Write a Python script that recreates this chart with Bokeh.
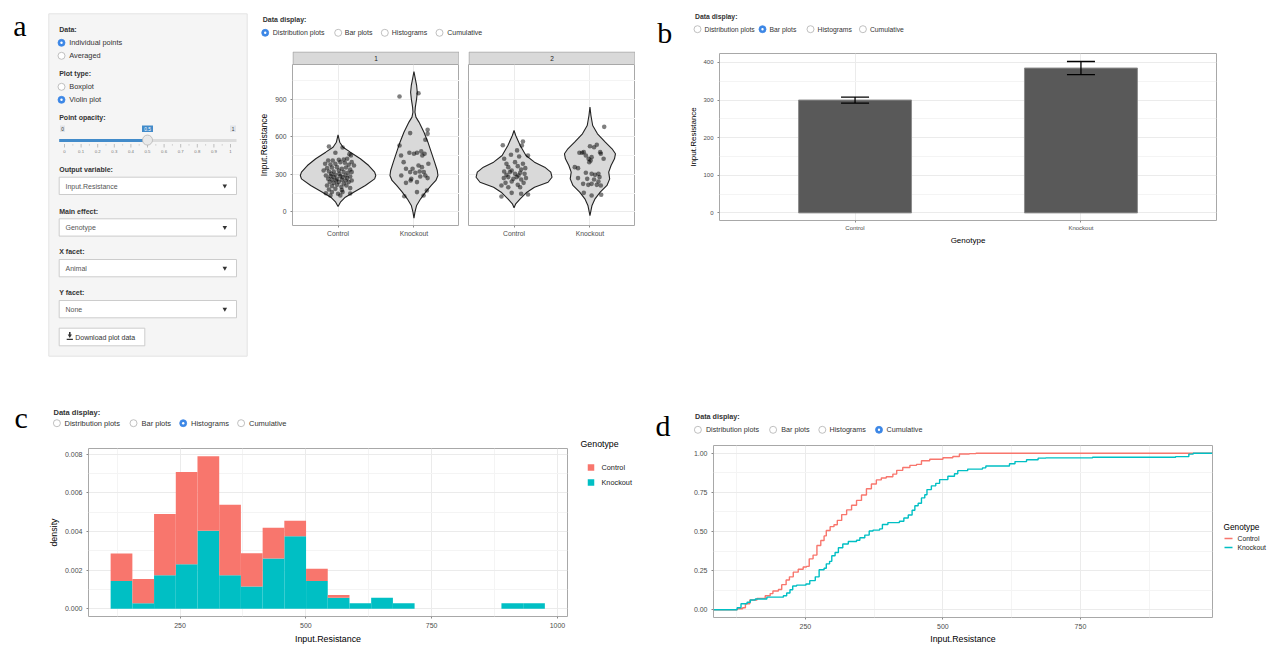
from bokeh.plotting import figure
from bokeh.layouts import row, column
from bokeh.models import Range1d, FixedTicker, NumeralTickFormatter, Spacer
from bokeh.core.properties import value
from bokeh.embed import file_html
from bokeh.resources import INLINE

# ------------------------------------------------------------------ data
genotypes = ["Control", "Knockout"]
animals = ["1", "2"]
out_var = "Input.Resistance"
display_opts = ["Distribution plots", "Bar plots", "Histograms", "Cumulative"]

# violin outlines (value, half width in category units)
vio_a1_ctrl_y = [42, 77, 117, 157, 211, 264, 291, 318, 371, 425, 478, 518, 558, 617]
vio_a1_ctrl_w = [0, 0.031, 0.096, 0.206, 0.36, 0.482, 0.497, 0.482, 0.404, 0.294, 0.162, 0.066, 0.022, 0]
vio_a1_ko_y = [-51, -3, 51, 104, 157, 211, 251, 291, 331, 398, 478, 558, 638, 719, 759, 799, 839, 906, 959, 1013, 1066, 1125]
vio_a1_ko_w = [0, 0.013, 0.035, 0.088, 0.154, 0.228, 0.289, 0.316, 0.307, 0.272, 0.228, 0.184, 0.132, 0.066, 0.026, 0.013, 0.018, 0.035, 0.044, 0.035, 0.018, 0]
vio_a2_ctrl_y = [32, 64, 104, 157, 197, 237, 277, 318, 358, 398, 451, 532, 612, 652]
vio_a2_ctrl_w = [0, 0.022, 0.081, 0.17, 0.269, 0.448, 0.5, 0.484, 0.404, 0.269, 0.157, 0.081, 0.022, 0]
vio_a2_ko_y = [-30, 51, 104, 157, 211, 264, 318, 371, 425, 465, 505, 558, 625, 692, 772, 839]
vio_a2_ko_w = [0, 0.027, 0.067, 0.135, 0.224, 0.26, 0.247, 0.278, 0.323, 0.336, 0.291, 0.202, 0.099, 0.036, 0.013, 0]

# jittered points (value, horizontal jitter in category units)
a1_ctrl_y = [524, 516, 473, 462, 452, 411, 411, 417, 419, 425, 398, 385, 379, 385, 398, 393, 377, 371, 350, 355,
             358, 345, 355, 339, 331, 323, 323, 331, 318, 313, 318, 291, 286, 297, 286, 291, 283, 264, 259, 264,
             256, 270, 251, 238, 232, 238, 227, 238, 211, 206, 216, 200, 211, 179, 184, 174, 190, 149, 158, 144,
             158, 147, 131, 131, 278, 304, 304, 278, 251, 251]
a1_ctrl_dx = [-0.12, 0.06, -0.035, 0.15, 0.17, -0.13, -0.07, 0.01, 0.075, 0.12, 0.18, -0.17, -0.10, -0.035, 0.03,
              0.09, 0.14, 0.21, -0.145, -0.08, -0.013, 0.05, 0.105, 0.16, -0.19, -0.12, -0.057, 0.01, 0.075, 0.13,
              0.18, -0.16, -0.10, -0.035, 0.03, 0.1, 0.16, -0.13, -0.08, -0.013, 0.05, 0.12, 0.18, -0.11, -0.057,
              0.01, 0.075, 0.14, -0.145, -0.08, -0.013, 0.044, 0.11, -0.12, -0.035, 0.05, 0.16, -0.16, -0.08, 0.0,
              0.06, 0.16, -0.10, 0.03, -0.057, 0.018, -0.088, 0.06, -0.026, 0.1]
a1_ko_y = [925, 951, 631, 657, 625, 577, 532, 451, 473, 465, 473, 484, 451, 465, 398, 385, 345, 358, 291, 318,
           313, 323, 318, 291, 264, 283, 270, 232, 251, 238, 171, 158, 125, 131, 345, 371]
a1_ko_dx = [-0.19, 0.06, -0.05, 0.18, 0.18, 0.15, -0.19, -0.17, -0.06, 0.0, 0.04, 0.096, 0.11, 0.14, -0.136,
            0.19, -0.018, 0.105, -0.167, -0.05, 0.018, 0.075, 0.13, 0.15, -0.035, 0.083, 0.18, -0.105, -0.044,
            0.04, 0.17, 0.04, -0.127, 0.127, -0.105, 0.06]
a2_ctrl_y = [534, 564, 492, 532, 425, 457, 443, 451, 385, 398, 385, 358, 331, 366, 339, 350, 323, 318, 304, 313,
             304, 270, 278, 264, 278, 259, 270, 232, 243, 216, 232, 211, 197, 197, 152, 144, 123, 139, 296, 291]
a2_ctrl_dx = [-0.148, 0.117, 0.04, 0.103, -0.13, -0.04, 0.067, 0.184, -0.1, 0.013, 0.117, -0.076, -0.031, 0.049,
              0.094, 0.148, -0.13, -0.054, 0.013, 0.081, 0.139, -0.135, -0.076, -0.009, 0.036, 0.094, 0.157,
              -0.112, -0.031, 0.049, 0.126, -0.166, -0.076, 0.081, -0.031, 0.094, -0.166, 0.184, -0.1, 0.058]
a2_ko_y = [681, 473, 478, 526, 518, 537, 478, 465, 451, 438, 425, 411, 398, 358, 350, 304, 313, 296, 304, 270,
           264, 259, 278, 224, 216, 224, 216, 211, 243, 152, 131, 136, 473, 425]
a2_ko_dx = [0.188, -0.139, -0.081, 0.0, 0.054, 0.09, 0.135, 0.143, -0.054, 0.022, -0.018, 0.009, -0.009, -0.2,
            -0.157, 0.022, -0.054, 0.067, 0.112, -0.157, -0.036, 0.054, 0.126, -0.09, -0.022, 0.022, 0.09, 0.143,
            0.112, -0.081, 0.022, 0.148, -0.103, 0.18]

# bar plot (mean and SEM)
bar_mean = [300, 385]
bar_sem = [8, 17.5]

# histogram (density per bin, stacked)
hist_edges = [112.0, 155.2, 198.3, 241.5, 284.6, 327.8, 370.9, 414.1, 457.2, 500.4, 543.5,
              586.7, 629.8, 673.0, 716.1, 759.3, 802.4, 845.6, 888.7, 931.9, 975.0]
hist_ko = [0.001445, 0.000289, 0.001734, 0.002312, 0.004046, 0.001734, 0.001156, 0.002601, 0.003757, 0.001445,
           0.000578, 0.000289, 0.000578, 0.000289, 0, 0, 0, 0, 0.000289, 0.000289]
hist_ctrl = [0.001422, 0.001253, 0.003178, 0.004763, 0.003851, 0.003647, 0.001727, 0.00159, 0.000803, 0.000634,
             0.000143, 0, 0, 0, 0, 0, 0, 0, 0, 0]

# cumulative distributions
ecdf_ctrl_x = [126, 136, 141, 149, 162, 177, 186, 191, 201, 207, 215, 221, 228, 237, 246, 252, 257, 264, 271, 278,
               284, 288, 295, 302, 308, 316, 325, 334, 343, 352, 361, 370, 379, 388, 397, 409, 416, 427, 440, 452,
               461, 476, 500, 518, 530, 548, 560]
ecdf_ctrl_y = [0.006, 0.012, 0.038, 0.062, 0.072, 0.089, 0.103, 0.119, 0.129, 0.160, 0.190, 0.210, 0.240, 0.259,
               0.273, 0.277, 0.325, 0.349, 0.410, 0.442, 0.472, 0.506, 0.531, 0.543, 0.571, 0.608, 0.638, 0.668,
               0.699, 0.733, 0.773, 0.804, 0.830, 0.842, 0.850, 0.867, 0.891, 0.909, 0.923, 0.929, 0.952, 0.962,
               0.972, 0.980, 0.996, 0.998, 1.0]
ecdf_ko_x = [126, 133, 144, 150, 159, 180, 210, 216, 222, 227, 234, 251, 258, 268, 275, 284, 288, 294, 298, 304,
             310, 318, 328, 343, 349, 358, 366, 373, 385, 390, 400, 421, 429, 437, 444, 449, 455, 461, 467, 471,
             479, 487, 494, 509, 521, 527, 545, 572, 578, 621, 631, 652, 673, 687, 772, 923, 947, 955]
ecdf_ko_y = [0.012, 0.038, 0.048, 0.062, 0.068, 0.080, 0.089, 0.107, 0.127, 0.151, 0.157, 0.164, 0.186, 0.210,
             0.255, 0.265, 0.293, 0.309, 0.345, 0.366, 0.396, 0.420, 0.436, 0.444, 0.460, 0.477, 0.503, 0.509,
             0.517, 0.545, 0.557, 0.566, 0.586, 0.606, 0.636, 0.665, 0.681, 0.715, 0.735, 0.768, 0.792, 0.808,
             0.832, 0.853, 0.869, 0.889, 0.899, 0.907, 0.919, 0.933, 0.947, 0.959, 0.969, 0.971, 0.975, 0.979,
             0.995, 1.0]

# ------------------------------------------------------------------ style
UI = "Liberation Sans"
SERIF = "Liberation Serif"
RED = "#F8766D"
TEAL = "#00BFC4"
GROUP_COLORS = [RED, TEAL]
GRID = "#ebebeb"
MINOR = "#f4f4f4"
BORDER = "#a8a8a8"
BLUE = "#3c87e6"


def decor(w, h):
    p = figure(width=w, height=h, x_range=Range1d(0, w), y_range=Range1d(h, 0),
               min_border=0, toolbar_location=None, output_backend="svg",
               x_axis_location=None, y_axis_location=None)
    p.xgrid.visible = False
    p.ygrid.visible = False
    p.outline_line_color = None
    return p


def txt(p, xs, ys, texts, size, color="#333333", bold=False, align="left", font=UI, baseline="middle"):
    p.text(x=xs, y=ys, text=texts, text_font=value(font), text_font_size=size, text_color=color,
           text_align=align, text_baseline=baseline, text_font_style="bold" if bold else "normal")


def radios(p, xs, ys, sel, size=7):
    n = len(xs)
    fills = [BLUE if i == sel else "white" for i in range(n)]
    lines = [BLUE if i == sel else "#b0b0b0" for i in range(n)]
    p.scatter(x=xs, y=ys, size=size, fill_color=fills, line_color=lines, line_width=0.8)
    p.scatter(x=[xs[sel]], y=[ys[sel]], size=2.4, fill_color="white", line_color=None)


def header(w, h, letter, lx, ly, hx, hy, ry, cx, tx, sel, fs):
    p = decor(w, h)
    if letter:
        txt(p, [lx], [ly], [letter], "30px", color="black", font=SERIF, baseline="alphabetic")
    txt(p, [hx], [hy], ["Data display:"], fs, bold=True)
    radios(p, cx, [ry] * 4, sel)
    txt(p, tx, [ry] * 4, display_opts, fs)
    return p


def style_axes(p, tick_fs, title_fs, label_standoff=3):
    p.outline_line_color = BORDER
    p.outline_line_width = 1
    p.xgrid.grid_line_color = GRID
    p.ygrid.grid_line_color = GRID
    p.xgrid.minor_grid_line_color = MINOR
    p.ygrid.minor_grid_line_color = MINOR
    for ax in p.axis:
        ax.axis_line_color = None
        ax.major_tick_line_color = "#8a8a8a"
        ax.major_tick_out = 2
        ax.major_tick_in = 0
        ax.minor_tick_line_color = None
        ax.major_label_text_font = UI
        ax.major_label_text_font_size = tick_fs
        ax.major_label_text_color = "#4d4d4d"
        ax.major_label_standoff = 2
        ax.axis_label_text_font = UI
        ax.axis_label_text_font_size = title_fs
        ax.axis_label_text_font_style = "normal"
        ax.axis_label_text_color = "black"
        ax.axis_label_standoff = label_standoff


# ------------------------------------------------------------------ panel a : sidebar
TOP_H = 384
BOT_H = 254
sb = decor(248, TOP_H)
txt(sb, [4.7], [17], ["a"], "30px", color="black", font=SERIF, baseline="alphabetic")
sb.quad(left=[40.3], right=[238.7], top=[5.3], bottom=[347.7], fill_color="#f5f5f5", line_color="#e3e3e3")
txt(sb, [50.7] * 7,
    [21, 65.3, 109.3, 161.3, 202.7, 243.3, 284.3],
    ["Data:", "Plot type:", "Point opacity:", "Output variable:", "Main effect:", "X facet:", "Y facet:"],
    "7px", bold=True)
radios(sb, [53, 53], [34.3, 47.3], 0)
radios(sb, [53, 53], [78.3, 91.3], 1)
txt(sb, [60.7] * 4, [34.3, 47.3, 78.3, 91.3], ["Individual points", "Averaged", "Boxplot", "Violin plot"], "7.4px")
# slider
slider_labels = ["0", "0.1", "0.2", "0.3", "0.4", "0.5", "0.6", "0.7", "0.8", "0.9", "1"]
s_x0, s_x1 = 56.0, 222.0
s_pos = [s_x0 + (s_x1 - s_x0) * i / 10 for i in range(11)]
sb.quad(left=[50.7], right=[228], top=[130.6], bottom=[133.4], fill_color="#dcdcdc", line_color=None)
sb.quad(left=[50.7], right=[s_pos[5]], top=[130.6], bottom=[133.4], fill_color="#428bca", line_color=None)
sb.segment(x0=s_pos, y0=[135.5] * 11, x1=s_pos, y1=[139] * 11, line_color="#999999", line_width=0.6)
mids = [(a + b) / 2 for a, b in zip(s_pos[:-1], s_pos[1:])]
sb.segment(x0=mids, y0=[135.5] * 10, x1=mids, y1=[137.2] * 10, line_color="#bbbbbb", line_width=0.6)
txt(sb, s_pos, [142.7] * 11, slider_labels, "4.3px", color="#777777", align="center")
sb.quad(left=[51.5, s_pos[5] - 5.5, 221.5], right=[56.5, s_pos[5] + 5.5, 227.5], top=[117, 117, 117],
        bottom=[123.5, 123.5, 123.5], fill_color=["#e1e4e9", "#428bca", "#e1e4e9"], line_color=None)
txt(sb, [54, s_pos[5], 224.5], [120.3] * 3, ["0", "0.5", "1"], "4.8px", color=["#333333", "white", "#333333"],
    align="center")
sb.scatter(x=[s_pos[5]], y=[131.6], size=10, fill_color="#e9e9e9", line_color="#b5b5b5", line_width=0.8)
# select inputs
sel_tops = [168.7, 210.3, 251, 292]
sel_vals = [out_var, "Genotype", "Animal", "None"]
sb.quad(left=[50.7] * 4, right=[228] * 4, top=sel_tops, bottom=[t + 17.3 for t in sel_tops],
        fill_color="white", line_color="#cccccc")
txt(sb, [57] * 4, [t + 8.8 for t in sel_tops], sel_vals, "7px", color="#555555")
sb.scatter(x=[216.3] * 4, y=[t + 8.6 for t in sel_tops], marker="inverted_triangle", size=4.5,
           fill_color="#333333", line_color=None)
# download button
sb.quad(left=[50.7], right=[136.3], top=[319.7], bottom=[337.3], fill_color="white", line_color="#cccccc")
sb.scatter(x=[61.3], y=[327.2], marker="inverted_triangle", size=4.2, fill_color="#333333", line_color=None)
sb.quad(left=[60.5], right=[62.1], top=[323.5], bottom=[326.5], fill_color="#333333", line_color=None)
sb.quad(left=[58.2], right=[64.4], top=[330.2], bottom=[331.4], fill_color="#333333", line_color=None)
txt(sb, [66.7], [328.7], ["Download plot data"], "7px")

# ------------------------------------------------------------------ panel a : violins
hdrA = header(392, 43, None, 0, 0, 6.3, 11.3, 24.3, [8.7, 81.7, 128.3, 183], [16.3, 88.3, 135.3, 190.7], 0, "7px")


def strip(label):
    s = decor(167, 13)
    s.quad(left=[0.5], right=[166.5], top=[0.5], bottom=[13], fill_color="#d9d9d9", line_color=BORDER)
    txt(s, [83.5], [6.8], [label], "6.5px", color="#1a1a1a", align="center")
    return s


VY = (-110, 1181)
vticks = FixedTicker(ticks=[0, 300, 600, 900], minor_ticks=[150, 450, 750, 1050])


def violin_fig(width, left, show_y, groups):
    p = figure(width=width, height=185, x_range=Range1d(0.4, 2.6), y_range=Range1d(*VY),
               min_border_left=left, min_border_right=0, min_border_top=0, min_border_bottom=24,
               toolbar_location=None, output_backend="svg",
               y_axis_location="left" if show_y else None)
    p.xaxis.ticker = FixedTicker(ticks=[1, 2])
    p.xaxis.major_label_overrides = {i + 1: g for i, g in enumerate(genotypes)}
    p.xgrid.ticker = FixedTicker(ticks=[1, 2])
    p.ygrid.ticker = vticks
    if show_y:
        p.yaxis.ticker = vticks
        p.yaxis.axis_label = out_var
    style_axes(p, "6.8px", "8.4px", 3)
    for k, (vy, vw, py, pdx) in enumerate(groups):
        c = k + 1
        xs = [c - w for w in vw] + [c + w for w in reversed(vw)]
        ys = list(vy) + list(reversed(vy))
        p.patch(xs, ys, fill_color="#d9d9d9", line_color="#222222", line_width=1.1)
        p.scatter(x=[c + d for d in pdx], y=py, size=4.6, fill_color="black", fill_alpha=0.5, line_color=None)
    return p


v1 = violin_fig(203, 36, True, [(vio_a1_ctrl_y, vio_a1_ctrl_w, a1_ctrl_y, a1_ctrl_dx),
                                (vio_a1_ko_y, vio_a1_ko_w, a1_ko_y, a1_ko_dx)])
v2 = violin_fig(167, 0, False, [(vio_a2_ctrl_y, vio_a2_ctrl_w, a2_ctrl_y, a2_ctrl_dx),
                                (vio_a2_ko_y, vio_a2_ko_w, a2_ko_y, a2_ko_dx)])
strips = row(Spacer(width=36, height=13), strip(animals[0]), Spacer(width=9, height=13), strip(animals[1]),
             Spacer(width=13, height=13))
vrow = row(v1, Spacer(width=9, height=185), v2, Spacer(width=13, height=185))
colA2 = column(hdrA, strips, vrow, Spacer(width=392, height=TOP_H - 43 - 13 - 185))

# ------------------------------------------------------------------ panel b
hdrB = header(617, 44, "b", 8.8, 23.7, 46.6, 8, 20.7, [49, 114, 162, 214.4], [56, 121, 169, 221.4], 1, "6.8px")
pb = figure(width=616, height=196, x_range=Range1d(0.4, 2.6), y_range=Range1d(-20.2, 423.7),
            min_border_left=70, min_border_right=49, min_border_top=1, min_border_bottom=28,
            toolbar_location=None, output_backend="svg")
bx = [1, 2]
pb.vbar(x=bx, top=bar_mean, bottom=0, width=0.5, fill_color="#595959", line_color="#8c8c8c", line_width=1)
lo = [m - s for m, s in zip(bar_mean, bar_sem)]
hi = [m + s for m, s in zip(bar_mean, bar_sem)]
pb.segment(x0=bx, y0=lo, x1=bx, y1=hi, line_color="black", line_width=1.3)
pb.segment(x0=[x - 0.062 for x in bx], y0=lo, x1=[x + 0.062 for x in bx], y1=lo, line_color="black", line_width=1.3)
pb.segment(x0=[x - 0.062 for x in bx], y0=hi, x1=[x + 0.062 for x in bx], y1=hi, line_color="black", line_width=1.3)
pb.xaxis.ticker = FixedTicker(ticks=bx)
pb.xaxis.major_label_overrides = {i + 1: g for i, g in enumerate(genotypes)}
pb.xgrid.ticker = FixedTicker(ticks=bx)
bt = FixedTicker(ticks=[0, 100, 200, 300, 400], minor_ticks=[50, 150, 250, 350])
pb.yaxis.ticker = bt
pb.ygrid.ticker = bt
pb.xaxis.axis_label = "Genotype"
pb.yaxis.axis_label = out_var
style_axes(pb, "6px", "8px", 2)
colB = column(hdrB, row(Spacer(width=1, height=196), pb), Spacer(width=617, height=TOP_H - 44 - 196))


# ------------------------------------------------------------------ legends (drawn beside the panels)
def legend_box(w, h, title, tx, ty, title_fs, kx, ky, kind, lx, label_fs):
    p = decor(w, h)
    txt(p, [tx], [ty], [title], title_fs, color="black")
    if kind == "fill":
        p.scatter(x=[kx] * len(genotypes), y=ky, marker="square", size=6.5, fill_color=GROUP_COLORS,
                  line_color=None)
    else:
        p.segment(x0=[kx - 4] * len(genotypes), y0=ky, x1=[kx + 4] * len(genotypes), y1=ky,
                  line_color=GROUP_COLORS, line_width=1.4)
    txt(p, [lx] * len(genotypes), ky, genotypes, label_fs, color="#1a1a1a")
    return p


# ------------------------------------------------------------------ panel c
hdrC = header(640, 44, "c", 6, 25, 45, 20, 30.7, [48.4, 125, 174.7, 232.6], [56, 133, 182.5, 240.5], 2, "7.5px")
pc = figure(width=559, height=210, x_range=Range1d(68, 1020), y_range=Range1d(-0.000395, 0.008295),
            min_border_left=79, min_border_right=1, min_border_top=12, min_border_bottom=26,
            toolbar_location=None, output_backend="svg")
left = hist_edges[:-1]
right = hist_edges[1:]
r_ko = pc.quad(left=left, right=right, bottom=0, top=hist_ko, fill_color=TEAL, line_color=None)
r_ctrl = pc.quad(left=left, right=right, bottom=hist_ko, top=[a + b for a, b in zip(hist_ko, hist_ctrl)],
                 fill_color=RED, line_color=None)
cxt = FixedTicker(ticks=[250, 500, 750, 1000], minor_ticks=[125, 375, 625, 875])
cyt = FixedTicker(ticks=[0, 0.002, 0.004, 0.006, 0.008], minor_ticks=[0.001, 0.003, 0.005, 0.007])
pc.xaxis.ticker = cxt
pc.xgrid.ticker = cxt
pc.yaxis.ticker = cyt
pc.ygrid.ticker = cyt
pc.yaxis.formatter = NumeralTickFormatter(format="0.000")
pc.xaxis.axis_label = out_var
pc.yaxis.axis_label = "density"
style_axes(pc, "7px", "8.9px", 3)
legC = legend_box(80, 209, "Genotype", 12, 6, "8.8px", 22.5, [30, 45], "fill", 33, "7.3px")
colC = column(hdrC, row(Spacer(width=1, height=210), pc, column(Spacer(width=80, height=1), legC)))

# ------------------------------------------------------------------ panel d
hdrD = header(617, 52, "d", 7, 33, 46.5, 24, 37.3, [49.4, 124.6, 173.8, 230.5], [57.4, 132.7, 181, 238], 3,
              "7.2px")
DX = (83, 990)
pd = figure(width=564, height=202, x_range=Range1d(*DX), y_range=Range1d(-0.05, 1.05),
            min_border_left=64, min_border_right=1, min_border_top=1, min_border_bottom=20,
            toolbar_location=None, output_backend="svg")
pd.step(x=[DX[0]] + ecdf_ctrl_x + [DX[1]], y=[0] + ecdf_ctrl_y + [1], mode="after",
        line_color=RED, line_width=1.4)
pd.step(x=[DX[0]] + ecdf_ko_x + [DX[1]], y=[0] + ecdf_ko_y + [1], mode="after",
        line_color=TEAL, line_width=1.4)
dxt = FixedTicker(ticks=[250, 500, 750], minor_ticks=[125, 375, 625, 875])
dyt = FixedTicker(ticks=[0, 0.25, 0.5, 0.75, 1.0], minor_ticks=[0.125, 0.375, 0.625, 0.875])
pd.xaxis.ticker = dxt
pd.xgrid.ticker = dxt
pd.yaxis.ticker = dyt
pd.ygrid.ticker = dyt
pd.yaxis.formatter = NumeralTickFormatter(format="0.00")
pd.xaxis.axis_label = out_var
style_axes(pd, "7px", "8.8px", 2)
legD = legend_box(58, 201, "Genotype", 10, 81, "8.3px", 15, [93, 102], "line", 24, "6.8px")
colD = column(hdrD, row(Spacer(width=1, height=202), pd, column(Spacer(width=58, height=1), legD)))

content = column(row(sb, colA2, colB), row(colC, colD))
page = column(Spacer(width=1265, height=8), row(Spacer(width=8, height=TOP_H + BOT_H), content))
open("out.html", "w").write(file_html(page, INLINE))
